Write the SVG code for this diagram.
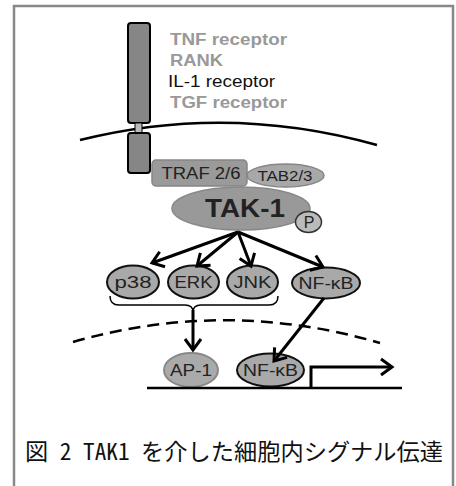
<svg xmlns="http://www.w3.org/2000/svg" width="456" height="486" viewBox="0 0 456 486">
<defs>
<style>
.lab{font-family:"Liberation Sans",Arial,sans-serif;fill:#222;text-anchor:middle}
.rec{font-family:"Liberation Sans",Arial,sans-serif;font-size:16px}
.conn{stroke:#000;stroke-width:3;fill:none}
.node{fill:#a9a9a9;stroke:#111;stroke-width:2}
</style>
<marker id="ah" markerUnits="userSpaceOnUse" markerWidth="24" markerHeight="24" refX="0" refY="0" viewBox="-14 -12 18 24" orient="auto">
<path d="M-11,-8 L0,0 L-11,8" fill="none" stroke="#000" stroke-width="3" stroke-linejoin="miter"/>
</marker>
</defs>
<rect x="0" y="0" width="456" height="486" fill="#fff"/>
<rect id="frame" x="14" y="6" width="439" height="500" fill="none" stroke="#888" stroke-width="2.5"/>

<g id="membrane">
<path d="M80,140 Q228,103 377,145" fill="none" stroke="#000" stroke-width="2.5"/>
</g>
<g id="nuclear-membrane">
<path d="M73,342 Q226,298 380,343" fill="none" stroke="#000" stroke-width="2.5" stroke-dasharray="12 7"/>
</g>

<g id="receptor">
<rect x="128" y="23" width="22" height="100" rx="3" fill="#868686" stroke="#000" stroke-width="2"/>
<rect x="135" y="123" width="7" height="10" fill="#bbb" stroke="#000" stroke-width="1"/>
<rect x="128" y="133" width="22" height="40" rx="3" fill="#868686" stroke="#000" stroke-width="2"/>
</g>
<g id="receptor-labels" class="rec">
<text x="170" y="45" font-weight="bold" fill="#999" textLength="117" lengthAdjust="spacingAndGlyphs">TNF receptor</text>
<text x="170" y="66" font-weight="bold" fill="#999" textLength="53" lengthAdjust="spacingAndGlyphs">RANK</text>
<text x="168" y="87" fill="#111" textLength="107" lengthAdjust="spacingAndGlyphs">IL-1 receptor</text>
<text x="170" y="108" font-weight="bold" fill="#999" textLength="117" lengthAdjust="spacingAndGlyphs">TGF receptor</text>
</g>

<g id="traf">
<rect x="152" y="160" width="95" height="26" rx="4" fill="#9a9a9a" stroke="#858585" stroke-width="1.5"/>
<text class="lab" x="201" y="179" font-size="16" textLength="79" lengthAdjust="spacingAndGlyphs">TRAF 2/6</text>
</g>
<g id="tab">
<ellipse cx="285.5" cy="175.5" rx="38.5" ry="11.5" fill="#a8a8a8" stroke="#858585" stroke-width="1.5"/>
<text class="lab" x="285" y="181" font-size="14" textLength="55" lengthAdjust="spacingAndGlyphs">TAB2/3</text>
</g>
<g id="tak1">
<ellipse cx="241" cy="208.5" rx="69" ry="21.5" fill="#999" stroke="#888" stroke-width="1.5"/>
<text class="lab" x="245" y="217" font-size="25" font-weight="bold" fill="#111" textLength="80" lengthAdjust="spacingAndGlyphs">TAK-1</text>
</g>
<g id="p">
<ellipse cx="308.5" cy="222" rx="13" ry="10.5" fill="#bbb" stroke="#333" stroke-width="1.5"/>
<text class="lab" x="309" y="228" font-size="16" fill="#111">P</text>
</g>

<g id="p38">
<ellipse class="node" cx="133" cy="282" rx="26" ry="16.5"/>
<text class="lab" x="133" y="288" font-size="16" textLength="37" lengthAdjust="spacingAndGlyphs">p38</text>
</g>
<g id="erk">
<ellipse class="node" cx="193.5" cy="282" rx="25.5" ry="16.5"/>
<text class="lab" x="193.5" y="288" font-size="16" textLength="38" lengthAdjust="spacingAndGlyphs">ERK</text>
</g>
<g id="jnk">
<ellipse class="node" cx="252.5" cy="282" rx="25.5" ry="16.5"/>
<text class="lab" x="252.5" y="288" font-size="16" textLength="38" lengthAdjust="spacingAndGlyphs">JNK</text>
</g>
<g id="nfkb1">
<ellipse class="node" cx="326" cy="283" rx="34" ry="15.5"/>
<text class="lab" x="326" y="289" font-size="16" textLength="55" lengthAdjust="spacingAndGlyphs">NF-κB</text>
</g>

<g id="ap1">
<ellipse cx="191" cy="370" rx="27" ry="17" fill="#aaa" stroke="#888" stroke-width="2"/>
<text class="lab" x="191" y="376" font-size="16" textLength="42" lengthAdjust="spacingAndGlyphs">AP-1</text>
</g>
<g id="nfkb2">
<ellipse class="node" cx="270.5" cy="370" rx="33.5" ry="16.5"/>
<text class="lab" x="270.5" y="376" font-size="16" textLength="55" lengthAdjust="spacingAndGlyphs">NF-κB</text>
</g>

<g id="dna">
<line x1="147" y1="388" x2="402" y2="388" stroke="#000" stroke-width="2.5"/>
</g>

<g id="connectors">
<line class="conn" x1="238" y1="232" x2="152" y2="263" marker-end="url(#ah)"/>
<line class="conn" x1="238" y1="232" x2="197" y2="266" marker-end="url(#ah)"/>
<line class="conn" x1="238" y1="232" x2="251" y2="266" marker-end="url(#ah)"/>
<line class="conn" x1="238" y1="232" x2="323" y2="267" marker-end="url(#ah)"/>
<path d="M110,296 q0,9 9,9 H185 q8,0 8,7 q0,-7 8,-7 H269 q9,0 9,-9" fill="none" stroke="#000" stroke-width="1.5"/>
<line class="conn" x1="193" y1="310" x2="193" y2="350" marker-end="url(#ah)"/>
<line class="conn" x1="324" y1="298" x2="274" y2="361" marker-end="url(#ah)"/>
<path class="conn" d="M311,388 V367 H392" marker-end="url(#ah)"/>
</g>

<g id="caption">
<text x="25" y="460" font-family="'Noto Sans Mono CJK JP','Noto Sans CJK JP','Noto Sans',sans-serif" font-size="23" fill="#111" textLength="418" lengthAdjust="spacingAndGlyphs">図 2 TAK1 を介した細胞内シグナル伝達</text>
</g>
</svg>
